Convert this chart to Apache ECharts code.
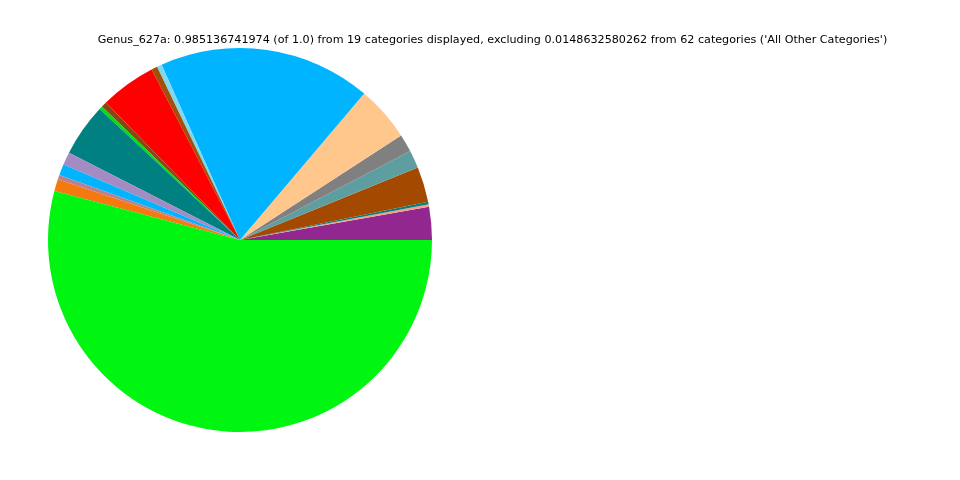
<!DOCTYPE html>
<html>
<head>
<meta charset="utf-8">
<script src="https://cdn.jsdelivr.net/npm/echarts@6/dist/echarts.min.js"></script>
<style>html,body{margin:0;padding:0;background:#fff}#c{width:960px;height:480px}</style>
</head>
<body>
<div id="c"></div>
<script>
const titleText = "Genus_627a: 0.985136741974 (of 1.0) from 19 categories displayed, excluding 0.0148632580262 from 62 categories ('All Other Categories')";
const categories = ["Category 1","Category 2","Category 3","Category 4","Category 5","Category 6","Category 7","Category 8","Category 9","Category 10","Category 11","Category 12","Category 13","Category 14","Category 15","Category 16","Category 17","Category 18","Category 19"];
const values = [0.0278,0.0019,0.0022,0.0297,0.0150,0.0150,0.0464,0.1789,0.0042,0.0050,0.0469,0.0047,0.0028,0.0444,0.0108,0.0092,0.0039,0.0100,0.5411];
const colors = ["#92278F","#F4A088","#008080","#A34A00","#5F9EA0","#808080","#FFC78C","#00B4FF","#7FD8EE","#A0500A","#FF0000","#8B4513","#00E010","#008080","#A58BC4","#00B4FF","#B48296","#F47A10","#00F510"];

const chart = echarts.init(document.getElementById('c'), null, {renderer: 'canvas'});
chart.setOption({
  animation: false,
  backgroundColor: '#ffffff',
  graphic: [{
    type: 'text', x: 492.5, y: 40,
    style: { text: titleText, fontFamily: 'DejaVu Sans', fontSize: 11.15, fill: '#000', align: 'center', verticalAlign: 'middle' }
  }],
  series: [{
    type: 'pie',
    center: [240, 240],
    radius: [0, 192],
    startAngle: 0,
    clockwise: false,
    minAngle: 0,
    avoidLabelOverlap: false,
    label: { show: false },
    labelLine: { show: false },
    emphasis: { disabled: true },
    itemStyle: { borderWidth: 0 },
    data: categories.map((c, i) => ({ name: c, value: values[i], itemStyle: { color: colors[i] } }))
  }]
});
</script>
</body>
</html>
